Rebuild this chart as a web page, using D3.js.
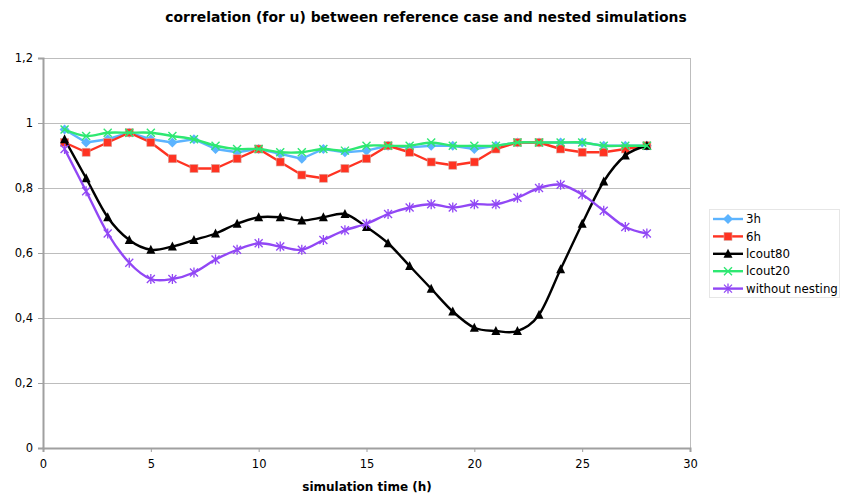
<!DOCTYPE html>
<html>
<head>
<meta charset="utf-8">
<script src="https://cdn.jsdelivr.net/npm/d3@7"></script>
<style>
  html, body { margin: 0; padding: 0; background: #fff; }
  svg { display: block; font-family: "DejaVu Sans", Verdana, sans-serif; }
</style>
</head>
<body>
<svg id="chart" width="842" height="498"></svg>
<script>
// Simulation hours (x values)
const hours = [1,2,3,4,5,6,7,8,9,10,11,12,13,14,15,16,17,18,19,20,21,22,23,24,25,26,27,28];

// Correlation series
const s3h      = [0.98,0.94,0.95,0.97,0.95,0.94,0.95,0.92,0.91,0.92,0.905,0.89,0.92,0.91,0.915,0.93,0.925,0.93,0.93,0.92,0.93,0.94,0.94,0.94,0.94,0.93,0.93,0.93];
const s6h      = [0.94,0.91,0.94,0.97,0.94,0.89,0.86,0.86,0.89,0.92,0.88,0.84,0.83,0.86,0.89,0.93,0.91,0.88,0.87,0.88,0.92,0.94,0.94,0.92,0.91,0.91,0.92,0.93];
const sLcout80 = [0.95,0.83,0.71,0.64,0.61,0.62,0.64,0.66,0.69,0.71,0.71,0.70,0.71,0.72,0.68,0.63,0.56,0.49,0.42,0.37,0.36,0.36,0.41,0.55,0.69,0.82,0.90,0.93];
const sLcout20 = [0.98,0.96,0.97,0.97,0.97,0.96,0.95,0.93,0.92,0.92,0.91,0.91,0.92,0.915,0.93,0.93,0.93,0.94,0.93,0.93,0.93,0.94,0.94,0.94,0.94,0.93,0.93,0.93];
const sNoNest  = [0.92,0.79,0.66,0.57,0.52,0.52,0.54,0.58,0.61,0.63,0.62,0.61,0.64,0.67,0.69,0.72,0.74,0.75,0.74,0.75,0.75,0.77,0.80,0.81,0.78,0.73,0.68,0.66];

const seriesNames = ["3h", "6h", "lcout80", "lcout20", "without nesting"];

// Axis ticks
const xTicks = [0, 5, 10, 15, 20, 25, 30];
const yTicks = [0, 0.2, 0.4, 0.6, 0.8, 1, 1.2];

const titleText = "correlation (for u) between reference case and nested simulations";
const xTitleText = "simulation time (h)";

const seriesStyle = [
  { values: s3h,      color: "#5cb4ff", marker: "diamond",  curve: d3.curveLinear },
  { values: s6h,      color: "#ff3322", marker: "square",   curve: d3.curveLinear },
  { values: sLcout80, color: "#000000", marker: "triangle", curve: d3.curveCatmullRom.alpha(0) },
  { values: sLcout20, color: "#2ee872", marker: "cross",    curve: d3.curveCatmullRom.alpha(0) },
  { values: sNoNest,  color: "#9147f5", marker: "star",     curve: d3.curveCatmullRom.alpha(0) }
];

const svg = d3.select("#chart");
const plot = { left: 43, right: 690, top: 58, bottom: 448 };

const x = d3.scaleLinear().domain([0, 30]).range([plot.left, plot.right]);
const y = d3.scaleLinear().domain([0, 1.2]).range([plot.bottom, plot.top]);
const fmt = d => String(d).replace(".", ",");

// Title
svg.append("text")
  .attr("x", 426).attr("y", 22)
  .attr("text-anchor", "middle")
  .attr("font-size", 13.9).attr("font-weight", "bold")
  .text(titleText);

// Horizontal gridlines
svg.append("g").selectAll("line")
  .data(yTicks.filter(t => t > 0))
  .join("line")
  .attr("x1", plot.left).attr("x2", plot.right)
  .attr("y1", d => y(d)).attr("y2", d => y(d))
  .attr("stroke", "#bdbdbd").attr("stroke-width", 1)
  .attr("shape-rendering", "crispEdges");

// Right border of plot area
svg.append("line")
  .attr("x1", plot.right).attr("x2", plot.right)
  .attr("y1", plot.top).attr("y2", plot.bottom)
  .attr("stroke", "#bdbdbd").attr("stroke-width", 1)
  .attr("shape-rendering", "crispEdges");

// Y axis
const yAxis = svg.append("g")
  .attr("transform", `translate(${plot.left},0)`)
  .call(d3.axisLeft(y).tickValues(yTicks).tickFormat(fmt).tickSize(5).tickPadding(5));
yAxis.select(".domain").attr("stroke", "#a0a0a0").attr("stroke-width", 2);
yAxis.selectAll(".tick line").attr("stroke", "#a0a0a0");
yAxis.selectAll("text").attr("font-size", 11.5).attr("fill", "#000")
  .attr("font-family", "'DejaVu Sans', Verdana, sans-serif");

// X axis
const xAxis = svg.append("g")
  .attr("transform", `translate(0,${plot.bottom})`)
  .call(d3.axisBottom(x).tickValues(xTicks).tickFormat(fmt).tickSize(4).tickPadding(8));
xAxis.select(".domain").attr("stroke", "#a0a0a0").attr("stroke-width", 2);
xAxis.selectAll(".tick line").attr("stroke", "#a0a0a0");
xAxis.selectAll("text").attr("font-size", 11.5).attr("fill", "#000")
  .attr("font-family", "'DejaVu Sans', Verdana, sans-serif");

// X axis title
svg.append("text")
  .attr("x", 367).attr("y", 491)
  .attr("text-anchor", "middle")
  .attr("font-size", 12).attr("font-weight", "bold")
  .text(xTitleText);

// Marker drawing
function drawMarker(g, type, color, size) {
  const s = size / 2;
  if (type === "diamond") {
    g.append("path").attr("d", `M0,${-s - 1}L${s + 1},0L0,${s + 1}L${-s - 1},0Z`).attr("fill", color);
  } else if (type === "square") {
    g.append("rect").attr("x", -s).attr("y", -s).attr("width", size).attr("height", size)
      .attr("fill", color).attr("stroke", "#d9a79e").attr("stroke-width", 0.6);
  } else if (type === "triangle") {
    g.append("path").attr("d", `M0,${-s - 1}L${s + 0.5},${s}L${-s - 0.5},${s}Z`).attr("fill", color);
  } else if (type === "cross") {
    g.append("path").attr("d", `M${-s},${-s}L${s},${s}M${-s},${s}L${s},${-s}`)
      .attr("stroke", color).attr("stroke-width", 1.4).attr("fill", "none");
  } else if (type === "star") {
    g.append("path").attr("d", `M${-s},${-s}L${s},${s}M${-s},${s}L${s},${-s}M0,${-s - 1}L0,${s + 1}`)
      .attr("stroke", color).attr("stroke-width", 1.3).attr("fill", "none");
  }
}

// Series lines and markers
const seriesG = svg.append("g");
seriesStyle.forEach((st, i) => {
  const pts = hours.map((h, j) => [h, st.values[j]]);
  const line = d3.line().x(d => x(d[0])).y(d => y(d[1])).curve(st.curve);
  const g = seriesG.append("g").attr("class", "series-" + i);
  g.append("path").attr("d", line(pts))
    .attr("fill", "none").attr("stroke", st.color).attr("stroke-width", 2.4)
    .attr("stroke-linejoin", "round");
  pts.forEach(p => {
    const mg = g.append("g").attr("transform", `translate(${x(p[0])},${y(p[1])})`);
    drawMarker(mg, st.marker, st.color, 8);
  });
});

// Legend
const legend = svg.append("g").attr("transform", "translate(709,209)");
legend.append("rect").attr("x", 0).attr("y", 0).attr("width", 130).attr("height", 88)
  .attr("fill", "#fff").attr("stroke", "#e6e6e6").attr("stroke-width", 1)
  .attr("shape-rendering", "crispEdges");
seriesStyle.forEach((st, i) => {
  const cy = 10 + i * 17.4;
  const lg = legend.append("g").attr("transform", `translate(0,${cy})`);
  lg.append("line").attr("x1", 4).attr("x2", 34).attr("y1", 0).attr("y2", 0)
    .attr("stroke", st.color).attr("stroke-width", 2.4);
  const mg = lg.append("g").attr("transform", "translate(19,0)");
  drawMarker(mg, st.marker, st.color, 8);
  lg.append("text").attr("x", 37).attr("y", 0).attr("dy", "0.36em")
    .attr("font-size", 11.8).text(seriesNames[i]);
});
</script>
</body>
</html>
